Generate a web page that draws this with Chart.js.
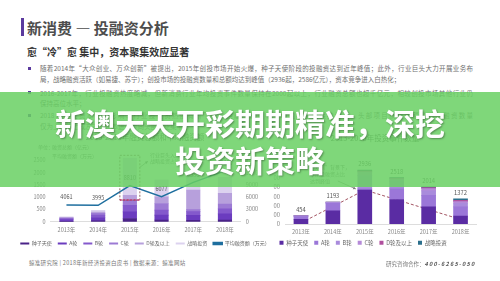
<!DOCTYPE html>
<html lang="zh">
<head>
<meta charset="utf-8">
<title>新消费 — 投融资分析</title>
<script src="https://cdn.jsdelivr.net/npm/chart.js@4.4.1/dist/chart.umd.min.js"></script>
<style>
  html, body { margin: 0; padding: 0; }
  body { width: 500px; height: 281px; overflow: hidden; background: #fff; position: relative;
         font-family: "Noto Sans CJK SC", "Noto Sans", sans-serif; color: #666; }
  .t { position: absolute; white-space: nowrap; }
  .just { white-space: nowrap; text-align: justify; text-align-last: justify; }
  #bar { position: absolute; left: 21px; top: 18px; width: 3px; height: 18px; background: #5b3a9e; }
  #title { left: 27px; top: 17.5px; font-size: 15px; line-height: 20px; font-weight: 700; color: #4d4d4d; }
  #sub { left: 27px; top: 46px; font-size: 10px; line-height: 12px; font-weight: 700; color: #333; }
  .line { left: 40px; font-size: 6.5px; line-height: 10px; color: #6f6f6f; }
  .dot { position: absolute; left: 28px; width: 3px; height: 3px; background: #5b3a9e; }
  .wrap { position: absolute; }
  #wrapL { left: 0; top: 130px; width: 284px; height: 120px; }
  #wrapR { left: 262px; top: 130px; width: 238px; height: 120px; }
  .note { font-size: 5px; line-height: 6px; color: #7a7a7a; }
  #banner { position: absolute; left: 0; top: 92px; width: 500px; height: 95px;
            background: rgba(104, 208, 99, 0.85); z-index: 5; }
  .big { position: absolute; left: 0; width: 500px; text-align: center; color: #fff;
         font-size: 30px; font-weight: 700; line-height: 36px;
         text-shadow: 1px 1px 2px rgba(0, 0, 0, 0.35); }
  .foot { font-size: 5.5px; line-height: 8px; color: #777; }
</style>
</head>
<body>
<div id="bar"></div>
<div class="t" id="title">新消费 — 投融资分析</div>
<div class="t" id="sub">愈“冷”愈 集中，资本聚集效应显著</div>

<div class="dot" style="top:66.8px"></div>
<div class="t line just" style="top:63.3px;width:433px">随着2014年“大众创业、万众创新”被提出，2015年创投市场开始火爆，种子天使阶段的投融资达到近年峰值；此外，行业巨头大力开展业务布</div>
<div class="t line just" style="top:74.3px;width:345px">局，战略融资活跃（如易捷、苏宁）；创投市场的投融资数量和总额均达到峰值（2936起，2586亿元），资本竞争进入白热化；</div>
<div class="dot" style="top:91.2px"></div>
<div class="t line just" style="top:87.7px;width:433px">2016-2017年，行业投融资热度略减，但新消费行业年均投资事件数量保持在2000起以上，行业融资总额也超千亿元，相较创投市场其他行业仍</div>
<div class="t line" style="top:98.3px">保持高位水平；</div>
<div class="dot" style="top:113.5px"></div>
<div class="t line just" style="top:110px;width:433px">2018年，受资本寒冬影响，行业投融资热度有所下降，但融资总额与平均融资额仍保持增长，头部项目获得大额融资，融资数量</div>
<div class="t line" style="top:120.5px">仅为上年的七成左右，资本进一步向头部企业集中。</div>

<div class="wrap" id="wrapL"><canvas id="amountChart"></canvas></div>
<div class="wrap" id="wrapR"><canvas id="countChart"></canvas></div>

<div class="t note" style="left:38px;top:144px">单位：</div>
<div class="t note" style="left:52px;top:144px">融资总额（亿元）</div>
<div class="t note" style="left:52px;top:153px">平均融资额（万元）</div>
<div class="t note" style="left:150px;top:152px">行业巨头入局，</div>
<div class="t note" style="left:150px;top:158px">战略投资占比高</div>
<div class="t note" style="left:310px;top:164px">“双创”背景下，</div>
<div class="t note" style="left:310px;top:170.5px">早期投融资占比</div>
<div class="t note" style="left:310px;top:177.5px">达到峰值</div>

<div class="t foot" style="left:29px;top:259px;letter-spacing:0.3px">鲸准研究院 | 2018年新经济投资白皮书 | 数据来源：鲸准网站</div>
<div class="t foot" style="left:386px;top:260px">研究咨询合作：<b><i style="letter-spacing:1.2px;color:#555">400-6265-050</i></b></div>

<div id="banner">
  <div class="big" style="top:12px">新澳天天开彩期期精准，深挖</div>
  <div class="big" style="top:49px">投资新策略</div>
</div>

<script>
const years = ['2013年', '2014年', '2015年', '2016年', '2017年', '2018年'];
const stages = ['种子天使', 'A轮', 'B轮', 'C轮', 'D轮及以上', '战略投资'];

// 融资总额（亿元）按轮次
const amountSeed = [20, 40, 130, 70, 60, 70];
const amountA = [60, 130, 270, 200, 200, 250];
const amountB = [40, 100, 270, 200, 150, 200];
const amountC = [30, 70, 200, 270, 80, 200];
const amountD = [20, 50, 200, 270, 800, 430];
const amountStrategic = [30, 70, 1516, 690, 560, 650];
// 平均融资额（万元）
const avgAmount = [4061, 3995, 8810, 6077, 9586, 12390];
const highlightRange = [880, 2700];

// 投资事件数量
const countSeed = [250, 720, 1840, 1330, 940, 430];
const countA = [150, 400, 90, 600, 620, 500];
const countB = [30, 40, 700, 400, 240, 200];
const countC = [14, 20, 200, 120, 120, 90];
const countD = [5, 8, 60, 40, 60, 70];
const countStrategic = [5, 5, 46, 28, 34, 82];
const countTotal = [454, 1193, 2936, 2518, 2014, 1372];
const trendPoints = [60, null, 1850, null, null, 250];

// 坐标轴刻度
const amountTicks = [0, 500, 1000, 1500, 2000, 2500];
const avgTicks = [0, 3000, 6000, 9000, 12000, 15000];
const countTicks = [0, 500, 1000, 1500, 2000, 2500];

const amountColors = ['#4a2388', '#6b3cbf', '#8459cc', '#9c7ad4', '#b7a0dc', '#dcd2ef'];
const countColors = ['#5a2ca3', '#9b77d8', '#a98bdc', '#b58ad8', '#b0509e', '#2b6f8c'];
const lineColor = '#1f6f9f';

Chart.defaults.font.family = '"Noto Sans CJK SC", "Noto Sans", sans-serif';
Chart.defaults.color = '#888';
Chart.defaults.animation = false;

const useTicks = list => axis => { axis.ticks = list.map(v => ({ value: v })); };
const plain = v => String(v);

function arrow(ctx, x1, y1, x2, y2) {
  const a = Math.atan2(y2 - y1, x2 - x1);
  ctx.beginPath();
  ctx.moveTo(x1, y1);
  ctx.lineTo(x2, y2);
  ctx.stroke();
  ctx.beginPath();
  ctx.moveTo(x2, y2);
  ctx.lineTo(x2 - 3 * Math.cos(a - 0.5), y2 - 3 * Math.sin(a - 0.5));
  ctx.lineTo(x2 - 3 * Math.cos(a + 0.5), y2 - 3 * Math.sin(a + 0.5));
  ctx.closePath();
  ctx.fill();
}

const amountLabels = {
  id: 'amountLabels',
  afterDatasetsDraw(chart) {
    const {ctx, scales: {x, y}} = chart;
    const line = chart.getDatasetMeta(6);
    ctx.save();
    ctx.font = '5.5px "Noto Sans CJK SC"';
    ctx.fillStyle = '#555';
    ctx.textAlign = 'center';
    ctx.textBaseline = 'bottom';
    line.data.forEach((pt, i) => ctx.fillText(String(avgAmount[i]), pt.x, pt.y - 5));

    const cx = x.getPixelForValue(2);
    const top = y.getPixelForValue(highlightRange[1]);
    const bot = y.getPixelForValue(highlightRange[0]);
    ctx.setLineDash([2, 1.5]);
    ctx.lineWidth = 0.8;
    ctx.strokeStyle = '#7b4040';
    ctx.strokeRect(cx - 10, top, 20, bot - top);
    ctx.strokeStyle = '#c2366e';
    ctx.lineWidth = 1.4;
    ctx.beginPath();
    ctx.moveTo(cx - 10, bot);
    ctx.lineTo(cx + 10, bot);
    ctx.stroke();
    ctx.setLineDash([]);
    ctx.lineWidth = 0.7;
    ctx.strokeStyle = '#777';
    ctx.fillStyle = '#777';
    arrow(ctx, cx + 10, top + 12, cx + 18, top + 6);
    ctx.restore();
  }
};

const countLabels = {
  id: 'countLabels',
  afterDatasetsDraw(chart) {
    const {ctx, scales: {x, y}} = chart;
    ctx.save();
    ctx.font = '5.8px "Noto Sans CJK SC"';
    ctx.fillStyle = '#555';
    ctx.textAlign = 'center';
    ctx.textBaseline = 'bottom';
    countTotal.forEach((v, i) => ctx.fillText(String(v), x.getPixelForValue(i), y.getPixelForValue(v) - 3));
    const cx = x.getPixelForValue(2);
    const ty = y.getPixelForValue(trendPoints[2]);
    ctx.lineWidth = 0.7;
    ctx.strokeStyle = '#777';
    ctx.fillStyle = '#777';
    arrow(ctx, cx - 27, ty - 9, cx - 9, ty - 1);
    ctx.restore();
  }
};

const amountSets = [amountSeed, amountA, amountB, amountC, amountD, amountStrategic];
const countSets = [countSeed, countA, countB, countC, countD, countStrategic];

new Chart(document.getElementById('amountChart'), {
  type: 'bar',
  data: {
    labels: years,
    datasets: [
      ...stages.map((s, i) => ({
        label: s, data: amountSets[i], backgroundColor: amountColors[i],
        borderWidth: 0, barThickness: 13.5, yAxisID: 'y', order: 1
      })),
      {
        type: 'line', label: '平均融资额（万元）', data: avgAmount, yAxisID: 'y1',
        borderColor: lineColor, backgroundColor: lineColor, borderWidth: 1.5,
        pointRadius: 0, tension: 0, order: 0
      }
    ]
  },
  options: {
    responsive: true,
    maintainAspectRatio: false,
    animation: false,
    layout: { padding: { left: 6 } },
    plugins: {
      title: {
        display: true, text: '2013-2018年融资总额和平均融资额', color: '#555',
        font: { size: 7.5, weight: 'normal' }, padding: { top: 2.5, bottom: 13.8 }
      },
      legend: {
        position: 'bottom', maxHeight: 15,
        labels: {
          boxWidth: 9, boxHeight: 2, padding: 6, color: '#666', font: { size: 5 },
          sort: (a, b) => a.datasetIndex - b.datasetIndex
        }
      },
      tooltip: { enabled: false }
    },
    scales: {
      x: {
        stacked: true,
        grid: { display: false, drawTicks: false },
        border: { color: '#ddd' },
        ticks: { padding: 5, font: { size: 5.5 }, color: '#888' },
        afterFit: s => { s.height = 13.3; }
      },
      y: {
        stacked: true, min: 0, max: 2700,
        grid: { display: false, drawTicks: false },
        border: { display: false },
        ticks: { padding: 5, font: { size: 5.5 }, callback: plain },
        afterBuildTicks: useTicks(amountTicks),
        afterFit: s => { s.width = 44.6; }
      },
      y1: {
        position: 'right', min: 0, max: 16200,
        grid: { display: false, drawTicks: false },
        border: { display: false },
        ticks: { padding: 5, font: { size: 5.5 }, callback: plain },
        afterBuildTicks: useTicks(avgTicks),
        afterFit: s => { s.width = 43.2; }
      }
    }
  },
  plugins: [amountLabels]
});

new Chart(document.getElementById('countChart'), {
  type: 'bar',
  data: {
    labels: years,
    datasets: [
      ...stages.map((s, i) => ({
        label: s, data: countSets[i], backgroundColor: countColors[i],
        borderWidth: 0, barThickness: 14, stack: 'count'
      })),
      {
        type: 'line', label: '', data: trendPoints, stack: 'trend', spanGaps: true,
        borderColor: '#a35563', borderDash: [3, 2], borderWidth: 1,
        pointRadius: 0, order: 10
      }
    ]
  },
  options: {
    responsive: true,
    maintainAspectRatio: false,
    animation: false,
    layout: { padding: { left: 11.5, right: 23.5 } },
    plugins: {
      title: {
        display: true, text: '2013-2018年投资事件数量', color: '#555',
        font: { size: 7.5, weight: 'normal' }, padding: { top: 3.5, bottom: 26.5 }
      },
      legend: {
        position: 'bottom', align: 'start', maxHeight: 16,
        labels: {
          boxWidth: 4, boxHeight: 4, padding: 6, color: '#666', font: { size: 5.5 },
          filter: item => item.text !== ''
        }
      },
      tooltip: { enabled: false }
    },
    scales: {
      x: {
        stacked: true,
        grid: { display: false, drawTicks: false },
        border: { color: '#ddd' },
        ticks: { padding: 5, font: { size: 5.5 }, color: '#888' },
        afterFit: s => { s.height = 10; }
      },
      y: {
        stacked: true, min: 0, max: 2990,
        grid: { display: false, drawTicks: false },
        border: { display: false },
        ticks: { padding: 5, font: { size: 5.8 }, callback: plain },
        afterBuildTicks: useTicks(countTicks),
        afterFit: s => { s.width = 11.5; }
      }
    }
  },
  plugins: [countLabels]
});
</script>
</body>
</html>
